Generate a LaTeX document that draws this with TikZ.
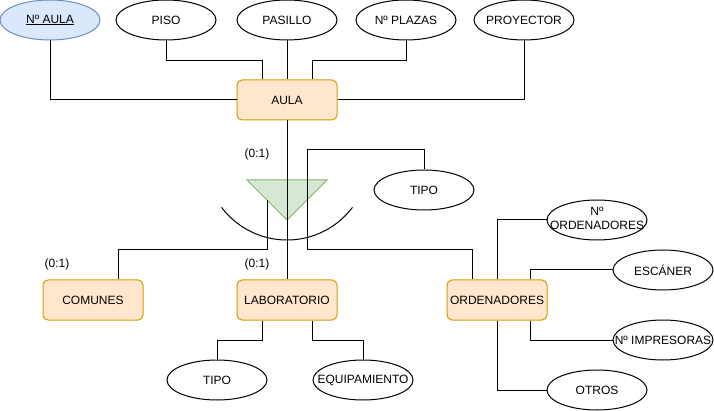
\documentclass[tikz,border=0pt]{standalone}
\usepackage{fontspec}
\setmainfont{Liberation Sans}
\usetikzlibrary{shapes.geometric}

\definecolor{entfill}{HTML}{FFE6CC}
\definecolor{entline}{HTML}{D79B00}
\definecolor{keyfill}{HTML}{DAE8FC}
\definecolor{keyline}{HTML}{6C8EBF}
\definecolor{isafill}{HTML}{D5E8D4}
\definecolor{isaline}{HTML}{82B366}

\tikzset{
  entity/.style={draw=entline, fill=entfill, rounded corners=5pt,
    minimum width=100pt, minimum height=40pt, inner sep=0pt},
  attr/.style={ellipse, draw, fill=white, minimum width=100pt,
    minimum height=40pt, inner sep=0pt,
    execute at begin node={\hbox to 0pt\bgroup\hss},
    execute at end node={\hss\egroup}},
  keyattr/.style={attr, draw=keyline, fill=keyfill},
}

\begin{document}
\begin{tikzpicture}[x=1pt, y=-1pt, line width=1pt,
    font=\fontsize{12}{14}\selectfont]

    \useasboundingbox (0,0) rectangle (714,411);

    % Parameters
    \def\tw{20}   % half width of the ISA lines
    \def\off{25}  % offset of the side connectors

    % Entities
    \node[entity] (aula)     at (287,100) {AULA};
    \node[entity] (comunes)  at (93,300)  {COMUNES};
    \node[entity] (lab)      at (287,300) {LABORATORIO};
    \node[entity] (ord)      at (497,300) {ORDENADORES};

    % Attributes of AULA
    \node[keyattr] (naula)     at (50,20)  {\underline{Nº AULA}};
    \node[attr]    (piso)      at (166,20) {PISO};
    \node[attr]    (pasillo)   at (287,20) {PASILLO};
    \node[attr]    (nplazas)   at (406,20) {Nº PLAZAS};
    \node[attr]    (proyector) at (524,20) {PROYECTOR};

    % Discriminator
    \node[attr] (tipoA) at (424,190) {TIPO};

    % Attributes of LABORATORIO
    \node[attr] (tipoB) at (217,380) {TIPO};
    \node[attr] (equip) at (363,380) {EQUIPAMIENTO};

    % Attributes of ORDENADORES
    \node[attr] (nord)    at (597,220) {\begin{tabular}{@{}c@{}}Nº\\ORDENADORES\end{tabular}};
    \node[attr] (escaner) at (663,270) {ESCÁNER};
    \node[attr] (nimpr)   at (663,340) {Nº IMPRESORAS};
    \node[attr] (otros)   at (597,390) {OTROS};

    % ISA triangle
    \filldraw[fill=isafill, draw=isaline] (247,180) -- (327,180) -- (287,220) -- cycle;
    \coordinate (isaL) at (287-\tw,200);

    % Partial covering arc
    \draw[domain=37:143, samples=60]
        plot ({287+82*cos(\x)}, {158+82*sin(\x)});

    % Connectors of AULA
    \draw (naula.south) |- (aula.west);
    \draw (piso.south) -- ++(0,20) -| ([xshift=-\off]aula.north);
    \draw (pasillo.south) -- (aula.north);
    \draw (nplazas.south) -- ++(0,20) -| ([xshift=\off]aula.north);
    \draw (proyector.south) |- (aula.east);

    % Specialisation
    \draw (aula.south) -- (lab.north);
    \draw (isaL) -- ++(0,50) -| ([xshift=\off]comunes.north);
    \draw (tipoA.north) -- ++(0,-20) -| (287+\tw,250) -| ([xshift=-\off]ord.north);

    % Connectors of LABORATORIO
    \draw ([xshift=-\off]lab.south) -- ++(0,20) -| (tipoB.north);
    \draw ([xshift=\off]lab.south) -- ++(0,20) -| (equip.north);

    % Connectors of ORDENADORES
    \draw (ord.north) |- (nord.west);
    \draw ([xshift=33]ord.north) |- (escaner.west);
    \draw ([xshift=33]ord.south) |- (nimpr.west);
    \draw (ord.south) |- (otros.west);

    % Cardinalities
    \node at (257,154) {(0:1)};
    \node at (57,264)  {(0:1)};
    \node at (257,264) {(0:1)};

\end{tikzpicture}
\end{document}
